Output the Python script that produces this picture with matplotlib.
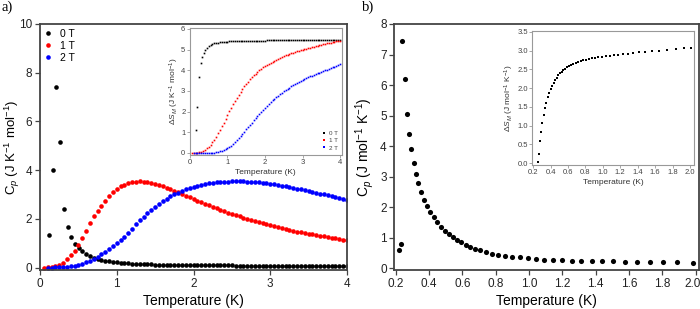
import matplotlib
matplotlib.use("Agg")
import matplotlib.pyplot as plt
from matplotlib.transforms import ScaledTranslation

plt.rcParams['font.family'] = ['Liberation Sans', 'DejaVu Sans']
plt.rcParams['mathtext.fontset'] = 'custom'
plt.rcParams['mathtext.rm'] = 'Liberation Sans'
plt.rcParams['mathtext.it'] = 'Liberation Sans:italic'

# ---------------- data: panel a ----------------
T_grid = [0.05, 0.10, 0.15, 0.20, 0.25, 0.30, 0.35, 0.40, 0.45, 0.50,
          0.55, 0.60, 0.65, 0.70, 0.75, 0.80, 0.85, 0.90, 0.95, 1.00,
          1.05, 1.10, 1.15, 1.20, 1.25, 1.30, 1.35, 1.40, 1.45, 1.50,
          1.55, 1.60, 1.65, 1.70, 1.75, 1.80, 1.85, 1.90, 1.95, 2.00,
          2.05, 2.10, 2.15, 2.20, 2.25, 2.30, 2.35, 2.40, 2.45, 2.50,
          2.55, 2.60, 2.65, 2.70, 2.75, 2.80, 2.85, 2.90, 2.95, 3.00,
          3.05, 3.10, 3.15, 3.20, 3.25, 3.30, 3.35, 3.40, 3.45, 3.50,
          3.55, 3.60, 3.65, 3.70, 3.75, 3.80, 3.85, 3.90, 3.95, 4.00]

T_0T_head = [0.12, 0.17, 0.21, 0.26, 0.31, 0.36, 0.41, 0.46, 0.51]
Cp_0T = [1.34, 3.99, 7.41, 5.14, 2.41, 1.67, 1.25, 0.96, 0.79,
         0.66, 0.56, 0.48, 0.41, 0.36, 0.32, 0.28, 0.26, 0.23, 0.21,
         0.20, 0.18, 0.17, 0.16, 0.15, 0.15, 0.14, 0.13, 0.13, 0.12,
         0.12, 0.12, 0.11, 0.11, 0.11, 0.10, 0.10, 0.10, 0.10, 0.09,
         0.09, 0.09, 0.09, 0.09, 0.09, 0.09, 0.09, 0.09, 0.09, 0.09,
         0.08, 0.08, 0.08, 0.08, 0.08, 0.08, 0.08, 0.08, 0.08, 0.08,
         0.08, 0.08, 0.08, 0.08, 0.08, 0.08, 0.08, 0.08, 0.08, 0.08,
         0.07, 0.07, 0.07, 0.07, 0.07, 0.07, 0.07, 0.07, 0.07, 0.07]

Cp_1T = [0.00, 0.01, 0.03, 0.06, 0.11, 0.20, 0.35, 0.51, 0.68, 0.92,
         1.22, 1.52, 1.84, 2.10, 2.33, 2.54, 2.75, 2.94, 3.11, 3.23,
         3.33, 3.41, 3.47, 3.51, 3.53, 3.54, 3.53, 3.51, 3.48, 3.44,
         3.39, 3.33, 3.27, 3.21, 3.15, 3.09, 3.02, 2.95, 2.88, 2.81,
         2.75, 2.68, 2.61, 2.55, 2.49, 2.43, 2.37, 2.31, 2.25, 2.20,
         2.15, 2.10, 2.05, 2.00, 1.95, 1.90, 1.86, 1.82, 1.78, 1.74,
         1.70, 1.66, 1.62, 1.58, 1.55, 1.52, 1.48, 1.45, 1.42, 1.39,
         1.36, 1.33, 1.31, 1.28, 1.25, 1.23, 1.20, 1.18, 1.15, 1.13]

Cp_2T = [0.00, 0.00, 0.01, 0.01, 0.02, 0.03, 0.05, 0.08, 0.11,
         0.16, 0.22, 0.29, 0.37, 0.45, 0.54, 0.64, 0.75, 0.87, 0.99,
         1.12, 1.27, 1.43, 1.60, 1.77, 1.94, 2.09, 2.23, 2.37, 2.50,
         2.62, 2.73, 2.83, 2.92, 3.00, 3.08, 3.15, 3.21, 3.27, 3.32,
         3.36, 3.40, 3.43, 3.46, 3.48, 3.50, 3.51, 3.52, 3.53, 3.54,
         3.54, 3.54, 3.54, 3.53, 3.52, 3.51, 3.50, 3.48, 3.46, 3.44,
         3.42, 3.39, 3.36, 3.33, 3.30, 3.27, 3.24, 3.21, 3.17, 3.14,
         3.10, 3.07, 3.03, 3.00, 2.96, 2.93, 2.89, 2.86, 2.82, 2.79]

# inset a: magnetic entropy change
T_S0_head = [0.16, 0.20, 0.25, 0.29, 0.33, 0.37, 0.41, 0.45, 0.50]
dS_0T = [1.10, 2.22, 3.66, 4.37, 4.66, 4.85, 4.98, 5.08, 5.16,
         5.24, 5.27, 5.30, 5.32, 5.34, 5.35, 5.36, 5.37, 5.38, 5.39,
         5.40, 5.40, 5.41, 5.41, 5.42, 5.42, 5.42, 5.43, 5.43, 5.43,
         5.44, 5.44, 5.44, 5.44, 5.44, 5.44, 5.44, 5.44, 5.44, 5.44,
         5.45, 5.45, 5.45, 5.45, 5.45, 5.45, 5.45, 5.45, 5.45, 5.45,
         5.45, 5.45, 5.45, 5.45, 5.45, 5.45, 5.45, 5.45, 5.45, 5.45,
         5.46, 5.46, 5.46, 5.46, 5.46, 5.46, 5.46, 5.46, 5.46, 5.46,
         5.47, 5.47, 5.47, 5.47, 5.47, 5.47, 5.47, 5.47, 5.47, 5.47]

dS_1T = [0.00, 0.00, 0.01, 0.02, 0.04, 0.06, 0.10, 0.15, 0.22, 0.30,
         0.40, 0.51, 0.64, 0.79, 0.95, 1.12, 1.29, 1.47, 1.66, 1.84,
         2.02, 2.19, 2.36, 2.52, 2.67, 2.82, 2.96, 3.09, 3.22, 3.34,
         3.45, 3.56, 3.66, 3.75, 3.84, 3.92, 4.00, 4.07, 4.14, 4.20,
         4.26, 4.32, 4.37, 4.42, 4.47, 4.52, 4.56, 4.60, 4.64, 4.68,
         4.72, 4.75, 4.79, 4.82, 4.85, 4.88, 4.91, 4.94, 4.96, 4.99,
         5.02, 5.05, 5.07, 5.10, 5.12, 5.15, 5.17, 5.19, 5.21, 5.23,
         5.26, 5.28, 5.30, 5.32, 5.34, 5.36, 5.38, 5.40, 5.42, 5.44]

dS_2T = [0.00, 0.00, 0.00, 0.00, 0.00, 0.00, 0.00, 0.01, 0.01,
         0.01, 0.01, 0.02, 0.03, 0.05, 0.07, 0.10, 0.13, 0.17, 0.22,
         0.28, 0.35, 0.43, 0.52, 0.61, 0.71, 0.81, 0.92, 1.03, 1.14,
         1.25, 1.36, 1.47, 1.58, 1.69, 1.79, 1.89, 1.99, 2.09, 2.19,
         2.28, 2.37, 2.46, 2.54, 2.62, 2.70, 2.77, 2.84, 2.91, 2.98,
         3.04, 3.10, 3.16, 3.22, 3.28, 3.33, 3.38, 3.43, 3.48, 3.53,
         3.58, 3.62, 3.66, 3.70, 3.74, 3.78, 3.82, 3.86, 3.89, 3.93,
         3.96, 4.00, 4.03, 4.07, 4.10, 4.14, 4.17, 4.21, 4.25, 4.28]

labels_a = ['0 T', '1 T', '2 T']
colors_a = ['black', '#ff0000', '#0000ff']

# ---------------- data: panel b ----------------
T_b = [0.220, 0.230, 0.240, 0.254, 0.268, 0.282, 0.294, 0.308, 0.322, 0.336,
       0.352, 0.370, 0.390, 0.408, 0.428, 0.448, 0.470, 0.494, 0.518, 0.542,
       0.568, 0.592, 0.620, 0.648, 0.676, 0.708, 0.742, 0.778, 0.816, 0.858,
       0.900, 0.946, 0.992, 1.040, 1.090, 1.142, 1.198, 1.256, 1.314, 1.376,
       1.440, 1.506, 1.576, 1.650, 1.726, 1.806, 1.890, 1.986]
Cp_b = [0.61, 0.79, 7.43, 6.20, 5.04, 4.41, 3.92, 3.46, 3.10, 2.79,
        2.50, 2.24, 2.05, 1.86, 1.69, 1.52, 1.37, 1.24, 1.13, 1.03,
        0.94, 0.85, 0.77, 0.71, 0.64, 0.59, 0.53, 0.48, 0.44, 0.40,
        0.38, 0.36, 0.34, 0.32, 0.29, 0.28, 0.27, 0.26, 0.25, 0.25,
        0.24, 0.23, 0.22, 0.21, 0.21, 0.20, 0.20, 0.19]

T_bS = [0.250, 0.265, 0.277, 0.292, 0.303, 0.319, 0.334, 0.350, 0.368, 0.384,
        0.400, 0.418, 0.434, 0.450, 0.468, 0.487, 0.506, 0.526, 0.545, 0.568,
        0.590, 0.614, 0.637, 0.660, 0.686, 0.713, 0.744, 0.774, 0.805, 0.840,
        0.874, 0.912, 0.950, 0.993, 1.035, 1.080, 1.127, 1.177, 1.230, 1.288,
        1.349, 1.414, 1.487, 1.564, 1.648, 1.740, 1.839, 1.930, 2.008]
dS_b = [0.04, 0.24, 0.58, 0.84, 1.08, 1.27, 1.46, 1.61, 1.75, 1.86,
        1.97, 2.06, 2.14, 2.21, 2.28, 2.34, 2.39, 2.44, 2.48, 2.52,
        2.55, 2.59, 2.61, 2.64, 2.67, 2.69, 2.71, 2.74, 2.75, 2.77,
        2.79, 2.81, 2.83, 2.84, 2.85, 2.86, 2.88, 2.89, 2.90, 2.92,
        2.93, 2.95, 2.96, 2.98, 3.00, 3.02, 3.04, 3.06, 3.08]

# ---------------- figure ----------------
W, H = 700, 309
fig = plt.figure(figsize=(W / 100, H / 100), dpi=100)


def px_axes(l, t, r, b):
    return fig.add_axes([l / W, 1 - b / H, (r - l) / W, (b - t) / H])


main_spine = '#444444'
inset_spine = '#999999'


def style_main(ax, fs):
    for s in ax.spines.values():
        s.set_color(main_spine)
        s.set_linewidth(1.3)
    ax.tick_params(direction='out', length=3.5, width=0.9, colors=main_spine,
                   labelsize=fs, labelcolor='#222222', pad=2)


def style_inset(ax):
    for s in ax.spines.values():
        s.set_color(inset_spine)
        s.set_linewidth(0.8)
    ax.tick_params(direction='out', length=2, width=0.6, colors=inset_spine,
                   labelsize=5.5, labelcolor='#444444', pad=1)


# ---- panel a main ----
axa = px_axes(40, 24, 347, 270)
T_0T = T_0T_head + T_grid[10:]
axa.plot(T_0T, Cp_0T, 'o', color=colors_a[0], ms=3.3, mew=0, label=labels_a[0])
axa.plot(T_grid, Cp_1T, 'o', color=colors_a[1], ms=3.3, mew=0, label=labels_a[1])
axa.plot(T_grid[1:], Cp_2T, 'o', color=colors_a[2], ms=3.3, mew=0, label=labels_a[2])
axa.set_xlim(0, 4)
axa.set_ylim(-0.1, 10)
axa.set_xticks([0, 1, 2, 3, 4])
axa.set_yticks([0, 2, 4, 6, 8, 10])
style_main(axa, 8.5)
axa.set_xlabel('Temperature (K)', fontsize=10, labelpad=3)
axa.set_ylabel(r'$\mathrm{C}_{\mathit{p}}$ (J K$^{-1}$ mol$^{-1}$)', fontsize=9.5)
axa.yaxis.set_label_coords(-0.060, 0.5)
axa.legend(loc='upper left', frameon=False, fontsize=7.5, handletextpad=0.9,
           labelspacing=0.2, borderaxespad=0.15, borderpad=0.3, handlelength=0.6,
           markerscale=1.0)

# ---- panel a inset ----
axai = px_axes(189.5, 27.5, 342, 155)
T_S0 = T_S0_head + T_grid[10:]
axai.plot(T_S0, dS_0T, 's', color=colors_a[0], ms=1.2, mew=0, label=labels_a[0])
axai.plot(T_grid, dS_1T, 's', color=colors_a[1], ms=1.2, mew=0, label=labels_a[1])
axai.plot(T_grid[1:], dS_2T, 's', color=colors_a[2], ms=1.2, mew=0, label=labels_a[2])
axai.set_xlim(-0.01, 4.05)
axai.set_ylim(-0.1, 6.07)
axai.set_xticks([0, 1, 2, 3, 4])
axai.set_yticks([0, 1, 2, 3, 4, 5, 6])
style_inset(axai)
axai.set_xlabel('Temperature (K)', fontsize=6, color='#333333', labelpad=2)
axai.set_ylabel(r'$\Delta S_M$ (J K$^{-1}$ mol$^{-1}$)', fontsize=6, color='#333333', labelpad=0)
axai.legend(loc='lower right', frameon=False, fontsize=4.5, handletextpad=0.4,
            labelspacing=0.3, borderaxespad=0.3, handlelength=0.8, markerscale=1.5,
            labelcolor='#444444')

# ---- panel b main ----
axb = px_axes(394.3, 24, 698.7, 270)
axb.plot(T_b, Cp_b, 'o', color='black', ms=3.7, mew=0)
axb.set_xlim(0.192, 2.018)
axb.set_ylim(-0.05, 8)
axb.set_xticks([0.2, 0.4, 0.6, 0.8, 1.0, 1.2, 1.4, 1.6, 1.8, 2.0])
axb.set_yticks([0, 1, 2, 3, 4, 5, 6, 7, 8])
style_main(axb, 8.5)
axb.set_xlabel('Temperature (K)', fontsize=10, labelpad=3)
axb.set_ylabel(r'$\mathrm{C}_{\mathit{p}}$ (J mol$^{-1}$ K$^{-1}$)', fontsize=10)
axb.yaxis.set_label_coords(-0.060, 0.5)
last = axb.get_xticklabels()[-1]
last.set_transform(last.get_transform() + ScaledTranslation(-3 / 100, 0, fig.dpi_scale_trans))

# ---- panel b inset ----
axbi = px_axes(532.3, 30.7, 694.3, 165)
axbi.plot(T_bS, dS_b, 's', color='black', ms=1.7, mew=0)
axbi.set_xlim(0.19, 2.05)
axbi.set_ylim(-0.05, 3.53)
axbi.set_xticks([0.2, 0.4, 0.6, 0.8, 1.0, 1.2, 1.4, 1.6, 1.8, 2.0])
axbi.set_yticks([0.0, 0.5, 1.0, 1.5, 2.0, 2.5, 3.0, 3.5])
axbi.set_yticklabels(['0.0', '0.5', '1.0', '1.5', '2.0', '2.5', '3.0', '3.5'])
style_inset(axbi)
axbi.set_xlabel('Temperature (K)', fontsize=6, color='#333333', labelpad=2)
axbi.set_ylabel(r'$\Delta S_M$ (J mol$^{-1}$ K$^{-1}$)', fontsize=6, color='#333333', labelpad=1)

# panel letters
fig.text(2 / W, 1 - 1 / H, 'a)', fontsize=10.5, family='Liberation Serif', va='top', ha='left')
fig.text(362 / W, 1 - 1 / H, 'b)', fontsize=10.5, family='Liberation Serif', va='top', ha='left')

fig.savefig('out.png', dpi=100)
